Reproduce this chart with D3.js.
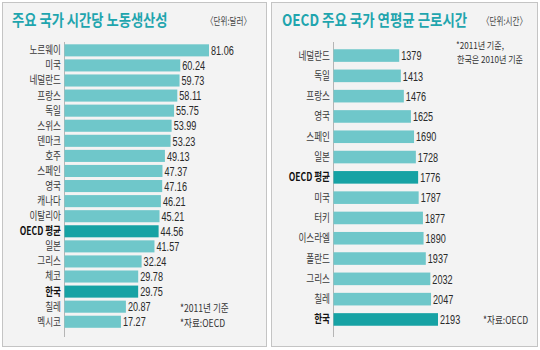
<!DOCTYPE html>
<html><head><meta charset="utf-8">
<script src="https://cdn.jsdelivr.net/npm/d3@7"></script>
<style>body{margin:0;background:#fff}svg{display:block}</style>
</head><body>
<svg id="c" width="540" height="350"></svg>
<script>
const prodCountries = ["노르웨이","미국","네덜란드","프랑스","독일","스위스","덴마크","호주","스페인","영국","캐나다","이탈리아","OECD 평균","일본","그리스","체코","한국","칠레","멕시코"];
const prodValues = [81.06,60.24,59.73,58.11,55.75,53.99,53.23,49.13,47.37,47.16,46.21,45.21,44.56,41.57,32.24,29.78,29.75,20.87,17.27];
const hoursCountries = ["네덜란드","독일","프랑스","영국","스페인","일본","OECD 평균","미국","터키","이스라엘","폴란드","그리스","칠레","한국"];
const hoursValues = [1379,1413,1476,1625,1690,1728,1776,1787,1877,1890,1937,2032,2047,2193];
const highlighted = ["OECD 평균","한국"];

const KR = "'Noto Sans CJK KR','Noto Sans',sans-serif";
const NUM = "'Liberation Sans Narrow','Liberation Sans',Arial,sans-serif";
const TEAL = "#1fa5ae", LIGHT = "#6fc7ca", DARK = "#16a2a4", TXT = "#333";

const svg = d3.select("#c");

function ctext(g, x, y, str, o) {
  return g.append("g").attr("transform", `translate(${x},${y}) scale(${o.sx||1},1)`)
    .append("text").attr("text-anchor", o.anchor||"start")
    .attr("font-family", o.family||KR).attr("font-size", o.size)
    .attr("font-weight", o.weight||"normal").attr("fill", o.fill||TXT)
    .attr("dy", o.dy||0).text(str);
}

// panels
svg.append("rect").attr("x",2.5).attr("y",2.5).attr("width",264).attr("height",344)
  .attr("fill","#f3f3f3").attr("stroke","#c4c4c4");
svg.append("rect").attr("x",271.5).attr("y",2.5).attr("width",266).attr("height",344)
  .attr("fill","#f3f3f3").attr("stroke","#c4c4c4");

function panel(cats, vals, opt) {
  const g = svg.append("g");
  const y = d3.scaleBand().domain(cats).range(opt.yr).paddingInner(opt.pad).paddingOuter(opt.pad/2);
  const x = d3.scaleLinear().domain(opt.xd).range(opt.xr);
  g.append("line").attr("x1",opt.xr[0]+0.5).attr("x2",opt.xr[0]+0.5)
    .attr("y1",opt.axisY[0]).attr("y2",opt.axisY[1]).attr("stroke","#b5b5b5");
  cats.forEach((c,i) => {
    const hl = highlighted.includes(c);
    g.append("rect").attr("x",x(opt.xd[0])+0.5).attr("y",y(c))
      .attr("width",x(vals[i])-x(opt.xd[0])).attr("height",y.bandwidth())
      .attr("fill", hl ? DARK : LIGHT);
    const cy = y(c)+y.bandwidth()/2;
    ctext(g, opt.xr[0]-3, cy, c, {anchor:"end", size:11, sx:0.78, weight: hl?"bold":"normal", dy:"0.36em", fill: hl?"#111":"#3a3a3a"});
    ctext(g, x(vals[i])+2.5, cy, opt.fmt(vals[i]), {size:13, sx:0.7, family:NUM, dy:"0.36em", fill:"#2a2a2a"});
  });
  return g;
}

panel(prodCountries, prodValues, {yr:[42.8,329.3], pad:0.2, xd:[-23.6,81.06], xr:[64,208.5], axisY:[42,337], fmt:d3.format(".2f")});
panel(hoursCountries, hoursValues, {yr:[45.4,329.6], pad:0.38, xd:[0,2193], xr:[333,437.5], axisY:[42,337], fmt:d3.format("d")});

// titles
ctext(svg, 12, 26, "주요 국가 시간당 노동생산성", {size:16, sx:0.83, weight:"bold", fill:TEAL});
ctext(svg, 206, 25, "〈단위:달러〉", {size:10.5, sx:0.72, fill:"#444"});
ctext(svg, 282, 26, "OECD 주요 국가 연평균 근로시간", {size:16, sx:0.84, weight:"bold", fill:TEAL});
ctext(svg, 482, 25, "〈단위:시간〉", {size:10.5, sx:0.72, fill:"#444"});

// notes
ctext(svg, 180, 312, "*2011년 기준", {size:10.5, sx:0.82, fill:"#333"});
ctext(svg, 180, 327, "*자료:OECD", {size:10.5, sx:0.82, fill:"#333"});
ctext(svg, 456, 49, "*2011년 기준,", {size:9.5, sx:0.85, fill:"#333"});
ctext(svg, 457, 63, "한국은 2010년 기준", {size:9.5, sx:0.85, fill:"#333"});
ctext(svg, 483, 324, "*자료:OECD", {size:10.5, sx:0.82, fill:"#333"});
</script>
</body></html>
